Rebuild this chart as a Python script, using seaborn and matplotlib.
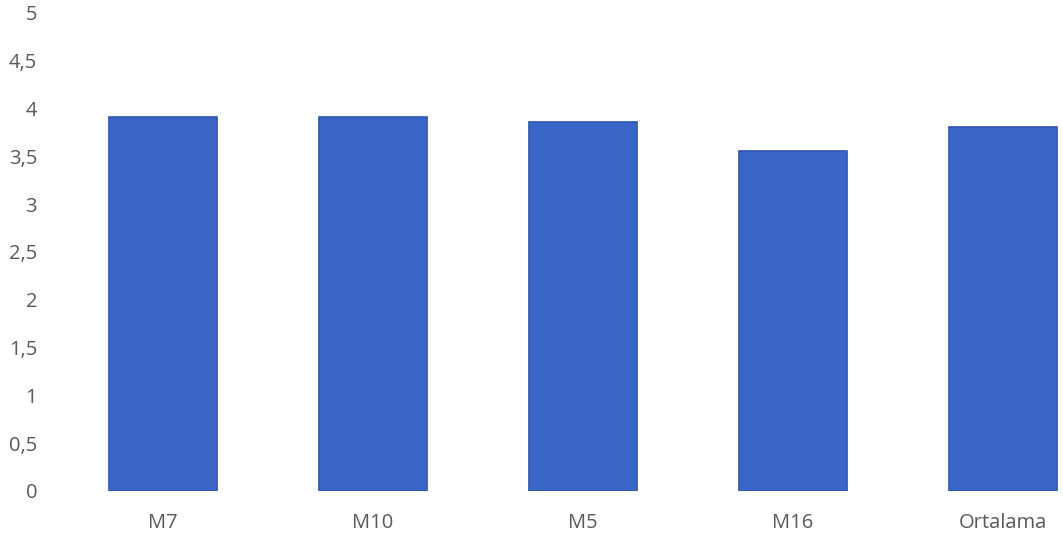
import matplotlib
matplotlib.use("Agg")
import matplotlib.pyplot as plt
import seaborn as sns
import pandas as pd
from matplotlib.ticker import FuncFormatter, MultipleLocator

categories = ["M7", "M10", "M5", "M16", "Ortalama"]
values = [3.91, 3.91, 3.86, 3.56, 3.81]

sns.set_theme(style="white")
plt.rcParams["font.family"] = ["Open Sans", "DejaVu Sans"]

df = pd.DataFrame({"kategori": categories, "deger": values})

fig = plt.figure(figsize=(10.63, 5.41), dpi=100)
ax = fig.add_axes([58 / 1063, 50 / 541, 1 - 58 / 1063, 478 / 541])

sns.barplot(data=df, x="kategori", y="deger", color="#3a66c8", width=0.51,
            saturation=1, edgecolor="#2e56b0", linewidth=1.2, ax=ax)

ax.set_ylim(0, 5)
# the plotting area runs past the right edge of the figure
ax.set_xlim(-0.5, (1063 - 163) / 210)
ax.yaxis.set_major_locator(MultipleLocator(0.5))
ax.yaxis.set_major_formatter(
    FuncFormatter(lambda v, _: f"{v:g}".replace(".", ","))
)
ax.set_xlabel("")
ax.set_ylabel("")
for s in ax.spines.values():
    s.set_visible(False)
ax.tick_params(axis="both", length=0, labelsize=14.5, colors="#595959")
ax.tick_params(axis="y", pad=15)
ax.tick_params(axis="x", pad=16)

fig.savefig("out.png", dpi=100)
